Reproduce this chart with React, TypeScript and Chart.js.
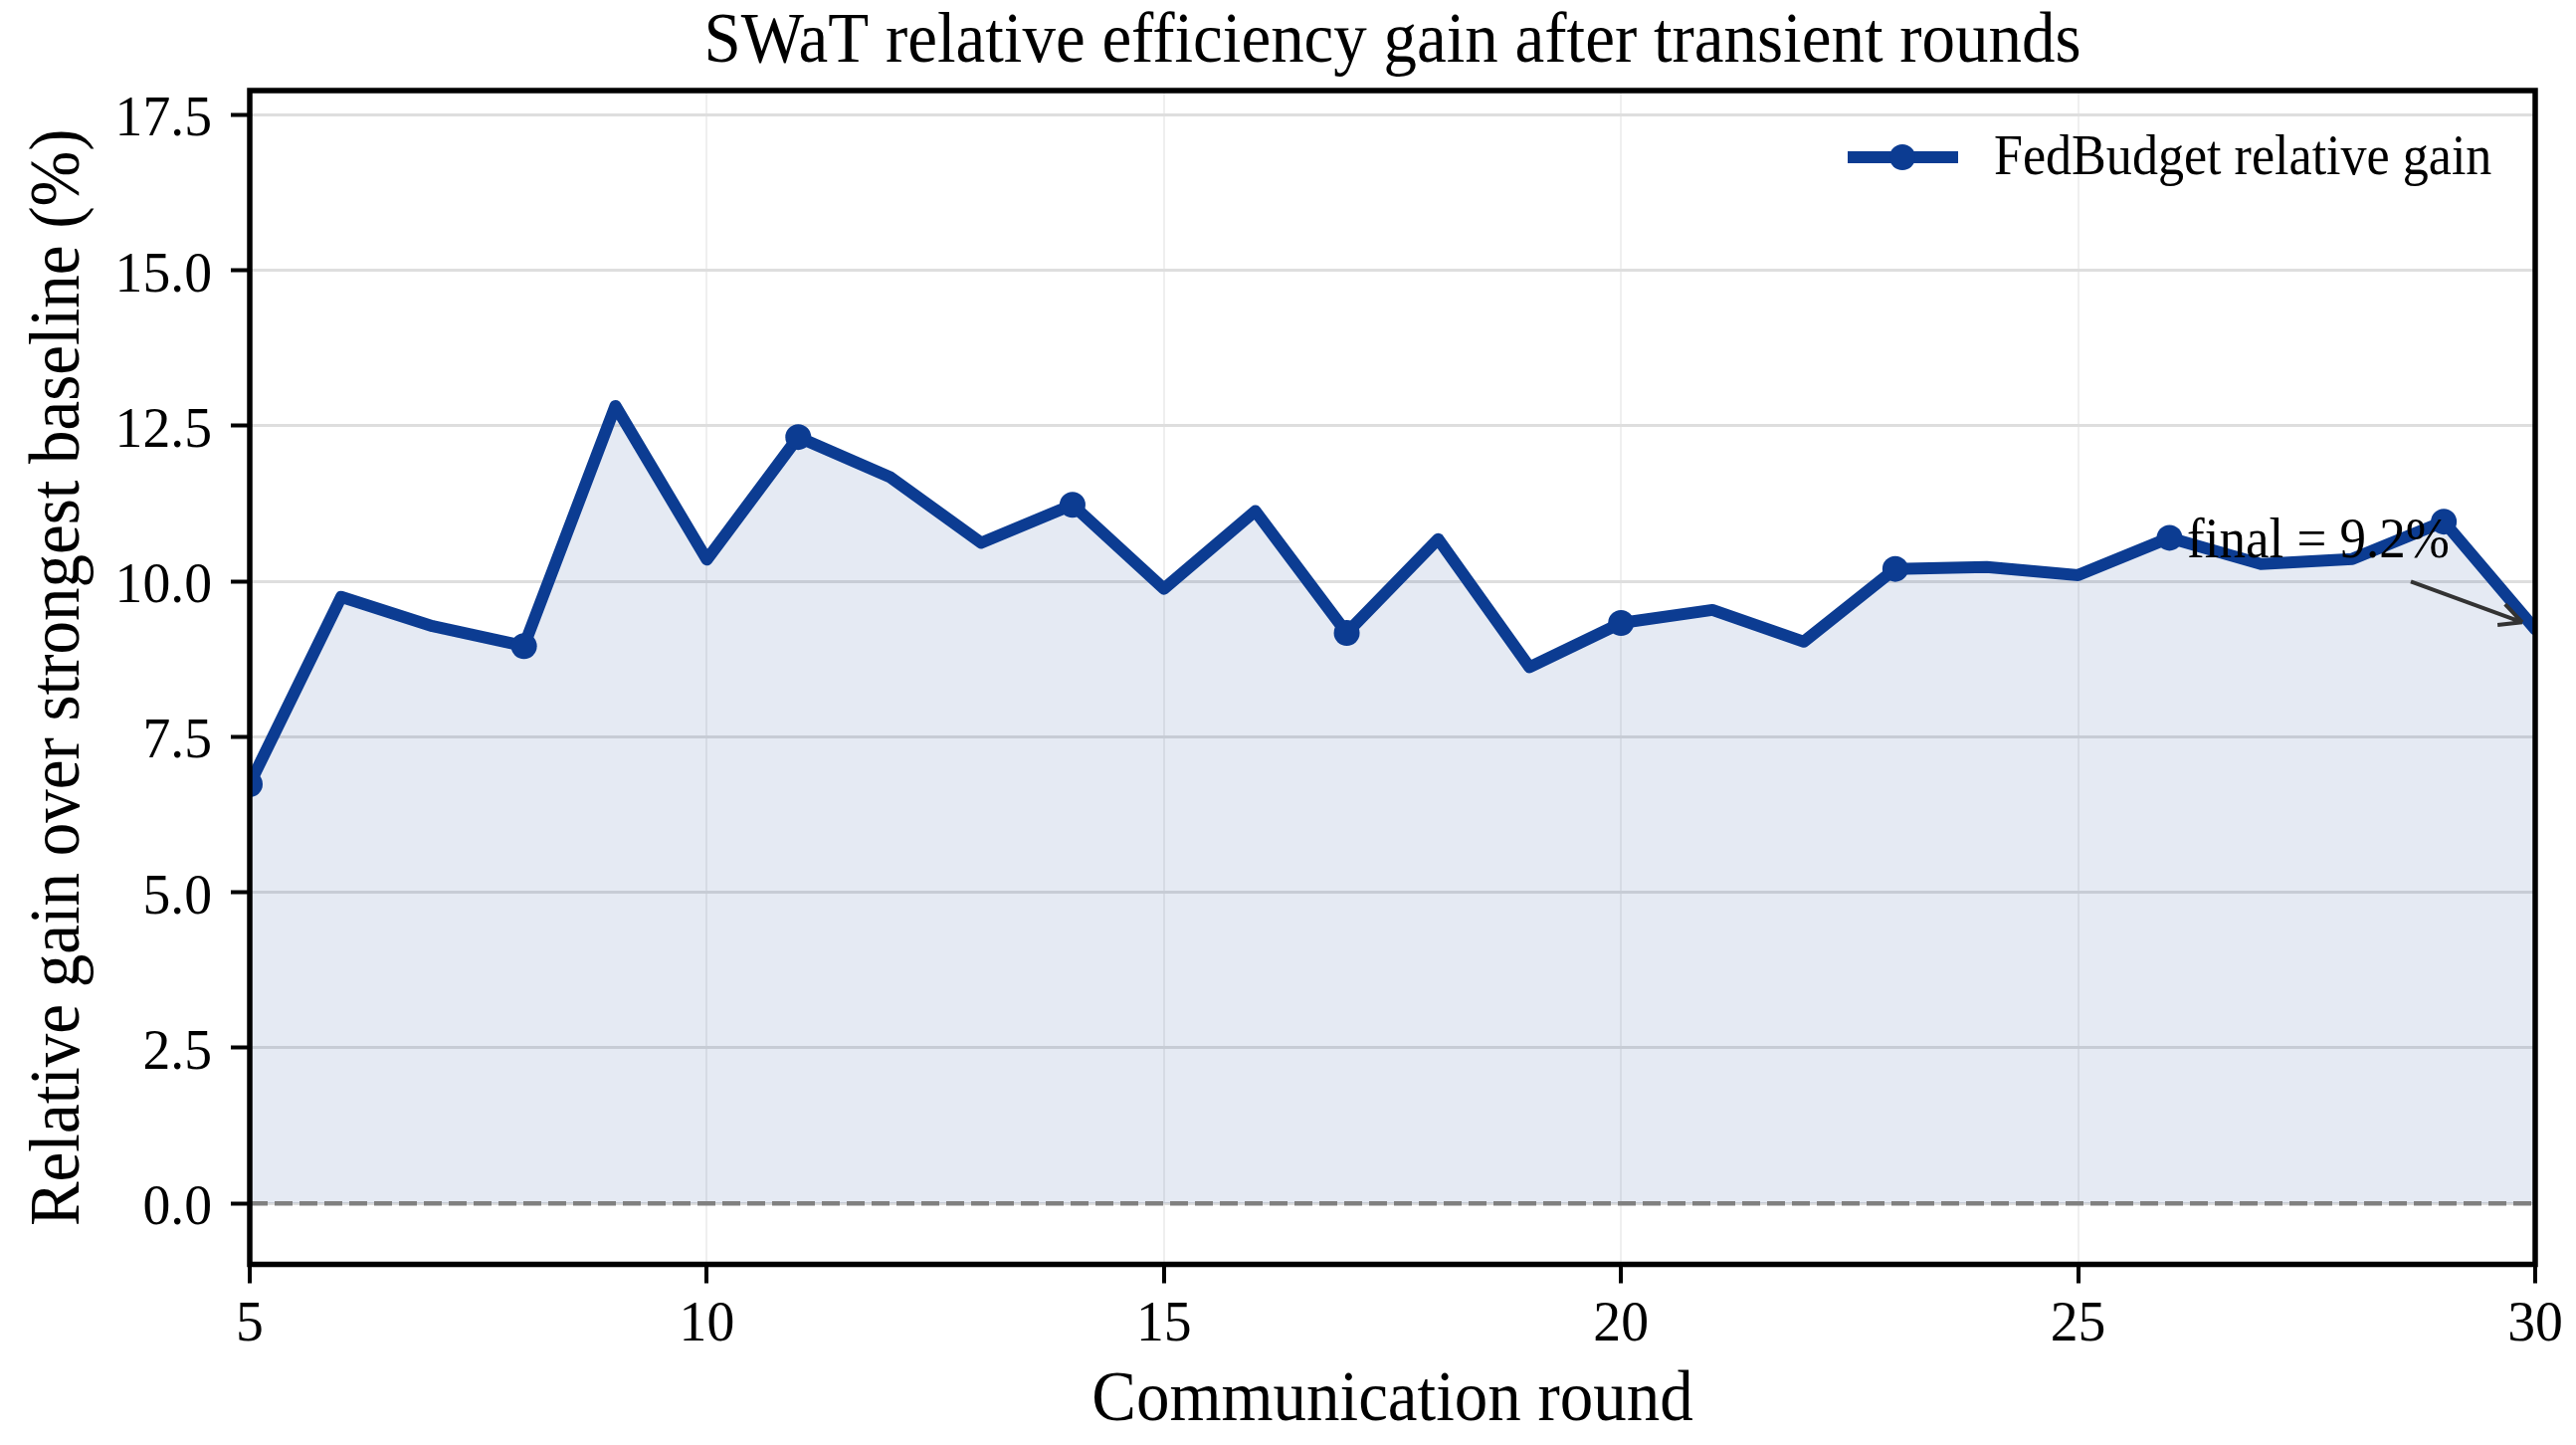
import React, { useEffect, useRef } from 'react';
import { Chart, registerables } from 'chart.js';

Chart.register(...registerables);

// values
const rounds = [5, 6, 7, 8, 9, 10, 11, 12, 13, 14, 15, 16, 17, 18, 19, 20, 21, 22, 23, 24, 25, 26, 27, 28, 29, 30];
const fedBudgetGain = [6.74, 9.75, 9.28, 8.96, 12.82, 10.35, 12.32, 11.68, 10.62, 11.23, 9.88, 11.13, 9.17, 10.68, 8.62, 9.33, 9.54, 9.03, 10.2, 10.23, 10.1, 10.7, 10.28, 10.36, 10.96, 9.23];
const xTicks = [5, 10, 15, 20, 25, 30];
const yTicks = [0, 2.5, 5, 7.5, 10, 12.5, 15, 17.5];

const seriesLabel = 'FedBudget relative gain';
const chartTitle = 'SWaT relative efficiency gain after transient rounds';
const xTitle = 'Communication round';
const yTitle = 'Relative gain over strongest baseline (%)';
const markEvery = 3;

const W = 2589;
const H = 1452;
const SERIF = '"Liberation Serif", "Times New Roman", serif';
const LINE = '#0c3c92';

// text in the reference is a little narrower than Liberation Serif at the same height
function drawText(ctx: CanvasRenderingContext2D, text: string, x: number, y: number, size: number,
    align: CanvasTextAlign, sx = 0.93, rotate = 0) {
    ctx.save();
    ctx.translate(x, y);
    if (rotate) ctx.rotate(rotate);
    ctx.scale(sx, 1);
    ctx.font = `${size}px ${SERIF}`;
    ctx.textAlign = align;
    ctx.textBaseline = 'alphabetic';
    ctx.fillStyle = '#000';
    ctx.fillText(text, 0, 0);
    ctx.restore();
}

const decorPlugin = {
    id: 'decor',
    afterDatasetsDraw(chart: any) {
        const { ctx, chartArea: a, scales } = chart;
        const y0 = scales.y.getPixelForValue(0);
        ctx.save();
        // zero reference line
        ctx.strokeStyle = '#808080';
        ctx.lineWidth = 4.5;
        ctx.setLineDash([18, 7]);
        ctx.beginPath();
        ctx.moveTo(a.left, y0);
        ctx.lineTo(a.right, y0);
        ctx.stroke();
        ctx.setLineDash([]);

        // annotation arrow to the final point
        const last = fedBudgetGain.length - 1;
        const px = scales.x.getPixelForValue(rounds[last]);
        const py = scales.y.getPixelForValue(fedBudgetGain[last]);
        const tx = px - 125, ty = py - 48;
        const hx = px - 13, hy = py - 7;
        ctx.strokeStyle = '#333333';
        ctx.lineWidth = 4;
        ctx.beginPath();
        ctx.moveTo(tx, ty);
        ctx.lineTo(hx, hy);
        const ang = Math.atan2(hy - ty, hx - tx);
        for (const s of [-1, 1]) {
            ctx.moveTo(hx, hy);
            ctx.lineTo(hx - 25 * Math.cos(ang + s * 0.46), hy - 25 * Math.sin(ang + s * 0.46));
        }
        ctx.stroke();
        drawText(ctx, `final = ${fedBudgetGain[last].toFixed(1)}%`, px - 350, py - 72, 57, 'left');

        // frame
        ctx.strokeStyle = '#000';
        ctx.lineWidth = 5.5;
        ctx.strokeRect(a.left, a.top, a.right - a.left, a.bottom - a.top);
        ctx.restore();
    },
    afterDraw(chart: any) {
        const { ctx, chartArea: a, scales } = chart;
        const cx = (a.left + a.right) / 2;
        const cy = (a.top + a.bottom) / 2;

        // tick labels
        scales.y.ticks.forEach((t: any) => {
            const y = scales.y.getPixelForValue(t.value);
            drawText(ctx, Number(t.value).toFixed(1), 213, y + 21, 58, 'right', 0.96);
        });
        scales.x.ticks.forEach((t: any) => {
            const x = scales.x.getPixelForValue(t.value);
            drawText(ctx, String(t.value), x, 1347, 58, 'center', 0.96);
        });

        // titles
        drawText(ctx, chartTitle, cx, 62, 72, 'center');
        drawText(ctx, xTitle, cx, 1427, 72, 'center');
        drawText(ctx, yTitle, 79, cy, 72, 'center', 0.93, -Math.PI / 2);

        // legend
        const ly = 158;
        ctx.save();
        ctx.strokeStyle = LINE;
        ctx.lineWidth = 12;
        ctx.beginPath();
        ctx.moveTo(1857, ly);
        ctx.lineTo(1968, ly);
        ctx.stroke();
        ctx.fillStyle = LINE;
        ctx.beginPath();
        ctx.arc(1912, ly, 13, 0, Math.PI * 2);
        ctx.fill();
        ctx.restore();
        drawText(ctx, seriesLabel, 2004, ly + 17, 56, 'left');
    },
};

const GainChart: React.FC = () => {
    const canvasRef = useRef<HTMLCanvasElement | null>(null);

    useEffect(() => {
        if (!canvasRef.current) return;
        const ctx = canvasRef.current.getContext('2d');
        if (!ctx) return;

        const chart = new Chart(ctx, {
            type: 'line',
            data: {
                datasets: [{
                    label: seriesLabel,
                    data: rounds.map((r, i) => ({ x: r, y: fedBudgetGain[i] })),
                    borderColor: LINE,
                    borderWidth: 12,
                    borderJoinStyle: 'round',
                    borderCapStyle: 'round',
                    backgroundColor: 'rgba(12, 60, 146, 0.105)',
                    fill: 'origin',
                    tension: 0,
                    pointRadius: (c: any) => (c.dataIndex % markEvery === 0 ? 13 : 0),
                    pointBackgroundColor: LINE,
                    pointBorderWidth: 0,
                    clip: 0,
                }],
            },
            options: {
                responsive: false,
                devicePixelRatio: 1,
                animation: false,
                events: [],
                layout: { padding: { top: 91, right: 41, left: 0, bottom: 0 } },
                plugins: {
                    legend: { display: false },
                    title: { display: false },
                    tooltip: { enabled: false },
                },
                scales: {
                    x: {
                        type: 'linear',
                        min: 5,
                        max: 30,
                        afterBuildTicks: (s: any) => { s.ticks = xTicks.map(v => ({ value: v })); },
                        afterFit: (s: any) => { s.height = 181.5; },
                        border: { display: false },
                        grid: {
                            color: '#efefef',
                            lineWidth: 2,
                            drawTicks: true,
                            tickLength: 19,
                            tickColor: '#000',
                            tickWidth: 4,
                        },
                        ticks: { display: false, autoSkip: false, maxRotation: 0 },
                    },
                    y: {
                        type: 'linear',
                        min: -0.98,
                        max: 17.89,
                        afterBuildTicks: (s: any) => { s.ticks = yTicks.map(v => ({ value: v })); },
                        afterFit: (s: any) => { s.width = 251; },
                        border: { display: false },
                        grid: {
                            color: '#dedede',
                            lineWidth: 3,
                            drawTicks: true,
                            tickLength: 19,
                            tickColor: '#000',
                            tickWidth: 4,
                        },
                        ticks: { display: false },
                    },
                },
            },
            plugins: [decorPlugin],
        });

        return () => {
            chart.destroy();
        };
    }, []);

    return (
        <div style={{ position: 'fixed', left: 0, top: 0, width: W, height: H, background: '#fff' }}>
            <canvas ref={canvasRef} width={W} height={H}></canvas>
        </div>
    );
};

export default function App() {
    return <GainChart />;
}
